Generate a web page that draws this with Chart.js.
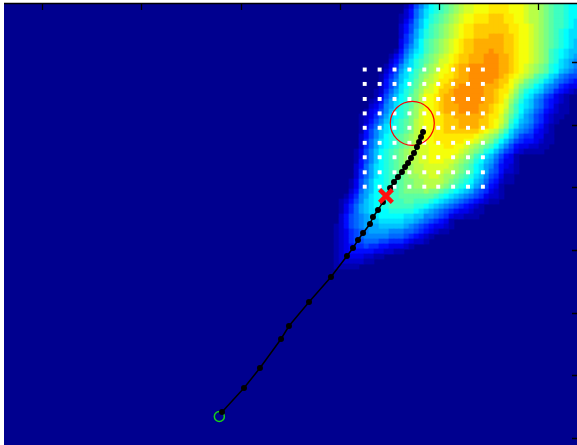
<!DOCTYPE html>
<html>
<head>
<meta charset="utf-8">
<script src="https://cdn.jsdelivr.net/npm/chart.js@4.4.1/dist/chart.umd.min.js"></script>
<style>
  html, body { margin: 0; padding: 0; background: #ffffff; overflow: hidden; }
  canvas { display: block; }
</style>
</head>
<body>
<canvas id="chart" width="600" height="480" style="width:600px;height:480px"></canvas>
<script>
// ---- Density map: one string per row, one character per cell (0-9, a-o = level 0..24).
// Row r starts at column heatFirstCol + heatStart[r]; unlisted cells are level 0.
const heatFirstCol = 65;
const heatStart = [
  15, 15, 14, 14, 14, 14, 14, 14, 14, 13, 12, 12, 11, 11, 10, 10, 10, 9, 9, 8,
  8, 7, 6, 6, 6, 6, 6, 6, 6, 5, 5, 5, 5, 5, 5, 4, 4, 4, 3, 2,
  2, 2, 2, 2, 1, 1, 1, 1, 1, 1, 1, 1, 1
];
const heatRows = [
  "1368acdefghijjkkkllllkkkjiihgfeedcc",
  "2479bcdefghijjkkkllllkkkjiihgfeedcc",
  "12479bdefghijkklllmmmllkkjiihgfeedcc",
  "1358acdefghijkklllmmmllkkjiihgfeedcb",
  "2468acefghijkllmmmmmmmllkkjihgfeedcb",
  "2469bdefghijkllmmmmmmmllkkjihgfedcbb",
  "2579bdefghijkllmmmnnnmmlkkjihgfedcbb",
  "357acefghijklmmnnnnnnmmlkkjihgfedcba",
  "368acefghijklmmnnnnnnmmlkkjihgfedcba",
  "1479bcefghijklmmnnnonnmmlkkjihgedcbaa",
  "1358acdfghijklmmnnnooonnmlkkjihgedcba9",
  "2469bdefghjjklmmnnnooonnmlkkjihgedba98",
  "1358abdeghijklmnnoooooonnmlkjihgfdcba98",
  "2469bcefghikklmnnoooooonnmlkjihgfdca987",
  "1357abdeghijkllmnnoooooonmlkjihfedba8766",
  "1468acdfgiijllmnnnooooonmmkjigfedba87654",
  "2468bcefhijklmmnooooonnnmlkigfecb9875433",
  "12579bdeghjjkmmnoooooonnmlljhfdcba8754321",
  "1368acdfgikklmnnoooooonnmlkigecb9865321",
  "12479bcdfgikklmnnoooooonnmljhfdba8754321",
  "23589bdefhikklmnnnoooonnmlkjgecba8754211",
  "13468acdeghjkklmnnnoooonnmlkigeca97643211",
  "123579bcdeghjkkllmmnnnnnnmlljhfdb98653211",
  "12468abdefgijkkllmmmnnnnmmlkjheca9865321",
  "13579bcdefgijkkllmmmnnnnmmlkigdb9875421",
  "1468abcdefgijkkllmmmmmmmlkjigeb98764321",
  "2468acdefghijkkllllllllkjihgeca86553311",
  "2579bcdefghijkkllllllkkjihgeca865443211",
  "2579bcdefghijjkkkllkkjihgfeca864332211",
  "1368acdefghiijjkkkkkkjihgfdca865321111",
  "1368acdefghiijjkkkkkjihgedba86431",
  "1468acdefghiijjkkkjjihgfdca975331",
  "2479bcdefghhiijjjjjihgfecb9864321",
  "2579bcdefghhiijjjjiihgfecb9764221",
  "2579bcdeefghhiijjihhgfedba865311",
  "1368accdeefgghhiiiihgfedca9754211",
  "1368accdeefgghhiiihgfedcb986431",
  "2479accdeefgggghggfedcba9765321",
  "13589bcddeefffffffedcba987653221",
  "12468abcddeeeffeeedcba9876543211",
  "13579abcddeeeeeddcba987654321",
  "13579abbccdddddcba98765433211",
  "246789abcccccbbaa88765322111",
  "246789aabbbbbaa98765431",
  "124678999aaaaa9876543321",
  "12356789999888776543211",
  "12356788888777654321",
  "1235667776655543221",
  "1234556554433321",
  "12344444332211",
  "1233332211",
  "12222211",
  "11111"
];

// ---- Evaluation grid (white markers)
const sampleX = [3.25, 3.40, 3.55, 3.70, 3.85, 3.99, 4.14, 4.29, 4.44];
const sampleY = [0.12, 0.35, 0.59, 0.82, 1.05, 1.29, 1.52, 1.76, 1.99];

// ---- Optimisation path
const pathX = [1.813, 2.034, 2.195, 2.407, 2.487, 2.689, 2.910, 3.071, 3.132, 3.182, 3.233, 3.303, 3.333,
               3.384, 3.434, 3.464, 3.505, 3.545, 3.585, 3.625, 3.656, 3.686, 3.716, 3.746, 3.776, 3.797,
               3.817, 3.837];
const pathY = [5.585, 5.202, 4.883, 4.420, 4.213, 3.830, 3.431, 3.096, 2.968, 2.840, 2.729, 2.585, 2.473,
               2.362, 2.234, 2.138, 2.011, 1.915, 1.835, 1.755, 1.675, 1.612, 1.532, 1.452, 1.356, 1.277,
               1.197, 1.117];

const startPoint = [1.786, 5.657];
const bestPoint = [3.464, 2.138];
const targetPoint = [3.729, 0.978];

// ---- Axis ticks
const xTicks = [0, 1, 2, 3, 4, 5];
const yTicks = [0, 1, 2, 3, 4, 5, 6];

// ---- Axis extents and cell size (data units)
const X_MIN = -0.3827, X_MAX = 5.3978;
const Y_MIN = -0.9255, Y_MAX = 6.4145;
const CELL_W = 0.050352, CELL_H = 0.079783;

// MATLAB-style jet colour map
function jet(level) {
  const v = 0.0156 + 0.03 * level;
  const c = t => Math.round(255 * Math.max(0, Math.min(1, t)));
  const r = c(Math.min(4 * v - 1.5, -4 * v + 4.5));
  const g = c(Math.min(4 * v - 0.5, -4 * v + 3.5));
  const b = c(Math.min(4 * v + 0.5, -4 * v + 2.5));
  return `rgb(${r},${g},${b})`;
}

const cells = [];
const cellColors = [];
heatRows.forEach((row, r) => {
  for (let i = 0; i < row.length; i++) {
    const level = parseInt(row[i], 36);
    if (!level) continue;
    const col = heatFirstCol + heatStart[r] + i;
    cells.push({ x: X_MIN + (col + 0.5) * CELL_W, y: Y_MIN + (r + 0.5) * CELL_H });
    cellColors.push(jet(level));
  }
});

const samplePts = [];
sampleY.forEach(y => sampleX.forEach(x => samplePts.push({ x, y })));

const pathPts = pathX.map((x, i) => ({ x, y: pathY[i] }));

// half-side of a cell in pixels, converted to a 'rect' point radius
function cellRadius(ctx) {
  const sx = ctx.chart.scales.x;
  const side = Math.abs(sx.getPixelForValue(CELL_W) - sx.getPixelForValue(0));
  return (side / 2 + 0.35) / Math.SQRT1_2;
}

const areaBackground = {
  id: 'areaBackground',
  beforeDatasetsDraw(chart) {
    const { ctx, chartArea: a } = chart;
    ctx.save();
    ctx.fillStyle = jet(0);
    ctx.fillRect(a.left, a.top, a.right - a.left, a.bottom - a.top);
    ctx.restore();
  }
};

// tick marks pointing into the plot, plus the top box edge
const inwardTicks = {
  id: 'inwardTicks',
  afterDatasetsDraw(chart) {
    const { ctx, chartArea: a, scales: { x, y } } = chart;
    ctx.save();
    ctx.strokeStyle = '#000';
    ctx.lineWidth = 1.3;
    ctx.beginPath();
    ctx.moveTo(a.left, a.top - 0.5);
    ctx.lineTo(a.right, a.top - 0.5);
    x.ticks.forEach(t => {
      const px = Math.round(x.getPixelForValue(t.value)) + 0.5;
      ctx.moveTo(px, a.top);
      ctx.lineTo(px, a.top + 6);
    });
    y.ticks.forEach(t => {
      const py = Math.round(y.getPixelForValue(t.value)) + 0.5;
      ctx.moveTo(a.right, py);
      ctx.lineTo(a.right - 6, py);
    });
    ctx.stroke();
    ctx.restore();
  }
};

new Chart(document.getElementById('chart'), {
  type: 'scatter',
  data: {
    datasets: [
      {
        label: 'density', data: cells, pointStyle: 'rect',
        backgroundColor: cellColors, borderWidth: 0,
        pointRadius: cellRadius, pointHoverRadius: cellRadius, order: 10
      },
      {
        label: 'grid', data: samplePts, pointStyle: 'rect',
        backgroundColor: '#ffffff', borderWidth: 0, pointRadius: 2.8, order: 9
      },
      {
        label: 'target', data: [{ x: targetPoint[0], y: targetPoint[1] }], pointStyle: 'circle',
        backgroundColor: 'rgba(0,0,0,0)', borderColor: '#ff0000', borderWidth: 1.2, pointRadius: 22, order: 8
      },
      {
        label: 'start', data: [{ x: startPoint[0], y: startPoint[1] }], pointStyle: 'circle',
        backgroundColor: 'rgba(0,0,0,0)', borderColor: '#18d018', borderWidth: 1.5, pointRadius: 5, order: 7
      },
      {
        label: 'path', data: pathPts, showLine: true,
        borderColor: '#000000', borderWidth: 1.5,
        pointBackgroundColor: '#000000', pointBorderColor: '#000000', pointBorderWidth: 0,
        pointRadius: 3, order: 6
      },
      {
        label: 'best', data: [{ x: bestPoint[0], y: bestPoint[1] }], pointStyle: 'crossRot',
        borderColor: '#ff1010', borderWidth: 4.5, pointRadius: 9, order: 5
      }
    ]
  },
  options: {
    responsive: false,
    animation: false,
    events: [],
    layout: { autoPadding: false, padding: { left: 4, top: 4, right: 22, bottom: 16 } },
    plugins: { legend: { display: false }, tooltip: { enabled: false } },
    scales: {
      x: {
        type: 'linear', position: 'top', min: X_MIN, max: X_MAX,
        afterBuildTicks: s => { s.ticks = xTicks.map(v => ({ value: v })); },
        ticks: { display: false },
        grid: { display: false, drawTicks: false },
        border: { display: false }
      },
      y: {
        type: 'linear', position: 'right', reverse: true, min: Y_MIN, max: Y_MAX,
        afterBuildTicks: s => { s.ticks = yTicks.map(v => ({ value: v })); },
        ticks: { display: false },
        grid: { display: false, drawTicks: false },
        border: { display: false }
      }
    }
  },
  plugins: [areaBackground, inwardTicks]
});
</script>
</body>
</html>
